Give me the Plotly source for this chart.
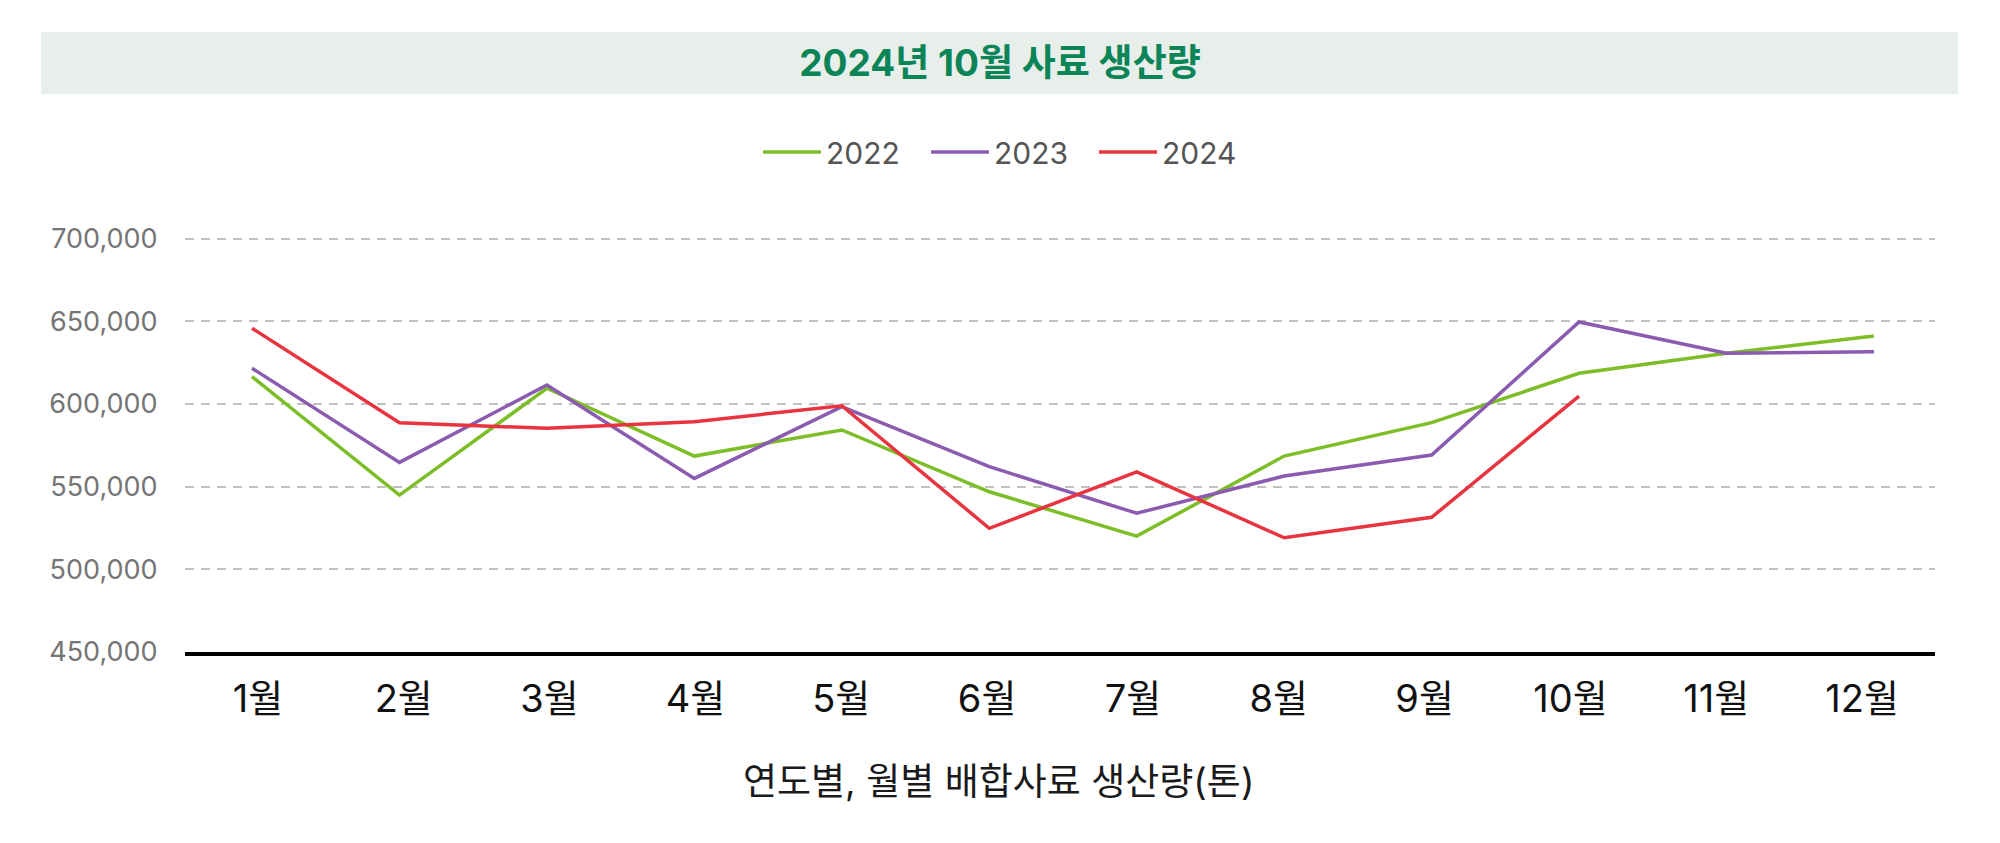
import plotly.graph_objects as go

# monthly mixed-feed production (tons)
months = ["1월", "2월", "3월", "4월", "5월", "6월", "7월", "8월", "9월", "10월", "11월", "12월"]
prod_2022 = [616500, 544900, 609500, 568500, 584300, 546900, 520100, 568500, 588700, 618600, 630700, 641100]
prod_2023 = [621600, 564700, 611500, 555000, 598400, 562100, 533900, 556400, 569100, 649600, 630700, 631600]
prod_2024 = [645800, 588700, 585300, 589300, 598950, 524800, 559000, 519100, 531450, 604800]
y_ticks = [450000, 500000, 550000, 600000, 650000, 700000]

FONT = "Inter, Noto Sans CJK KR, sans-serif"

fig = go.Figure()
# empty trace so the labelled month axis gets drawn
fig.add_trace(go.Scatter(x=months, y=[None] * len(months), mode="lines", showlegend=False, hoverinfo="skip"))
# lines sit on a hidden overlay axis: in the source their points spread a touch wider than the labels
fig.add_trace(go.Scatter(x=months, y=prod_2022, name="2022", mode="lines", xaxis="x2",
                         line=dict(color="#7dbe28", width=3.5)))
fig.add_trace(go.Scatter(x=months, y=prod_2023, name="2023", mode="lines", xaxis="x2",
                         line=dict(color="#8a5baf", width=3.5)))
fig.add_trace(go.Scatter(x=months[:len(prod_2024)], y=prod_2024, name="2024", mode="lines", xaxis="x2",
                         line=dict(color="#e8343f", width=3.5)))

# title band
fig.add_shape(type="rect", xref="paper", yref="paper",
              x0=-0.0823, x1=1.0131, y0=1.3446, y1=1.494,
              fillcolor="#e8efea", line_width=0, layer="below")

fig.update_layout(
    width=2000, height=843,
    margin=dict(l=177, r=73, t=229, b=199),
    paper_bgcolor="white", plot_bgcolor="white",
    font=dict(family=FONT),
    title=dict(text="<b>2024년 10월 사료 생산량</b>", x=0.496, xref="container", xanchor="center",
               y=1 - 55 / 843, yref="container", yanchor="middle",
               font=dict(size=37, color="#0b8457", family=FONT)),
    legend=dict(orientation="h", x=0.501, xref="container", xanchor="center",
                y=1 - 144 / 843, yref="container", yanchor="middle",
                font=dict(size=30, color="#555555"), itemwidth=58, entrywidth=95),
    showlegend=True,
    xaxis=dict(type="category", categoryarray=months, range=[-0.5, 11.5],
               showgrid=False, zeroline=False,
               showline=True, linecolor="#000000", linewidth=4,
               ticks="outside", ticklen=10, tickcolor="rgba(0,0,0,0)",
               tickfont=dict(size=38, color="#111111")),
    xaxis2=dict(type="category", categoryarray=months, overlaying="x", range=[-0.4546, 11.414],
                visible=False),
    yaxis=dict(range=[450000, 701000], tickvals=y_ticks, tickformat=",d",
               showgrid=True, gridcolor="#c0c0c0", gridwidth=2, griddash="9px,7px",
               zeroline=False, showline=False,
               ticks="outside", ticklen=21, tickcolor="rgba(0,0,0,0)",
               tickfont=dict(size=27, color="#757575")),
    annotations=[dict(text="연도별, 월별 배합사료 생산량(톤)", xref="paper", yref="paper",
                      x=0.465, y=-0.313, xanchor="center", yanchor="middle",
                      showarrow=False, font=dict(size=37, color="#1a1a1a", family=FONT))],
)

fig.write_html("out.html")
